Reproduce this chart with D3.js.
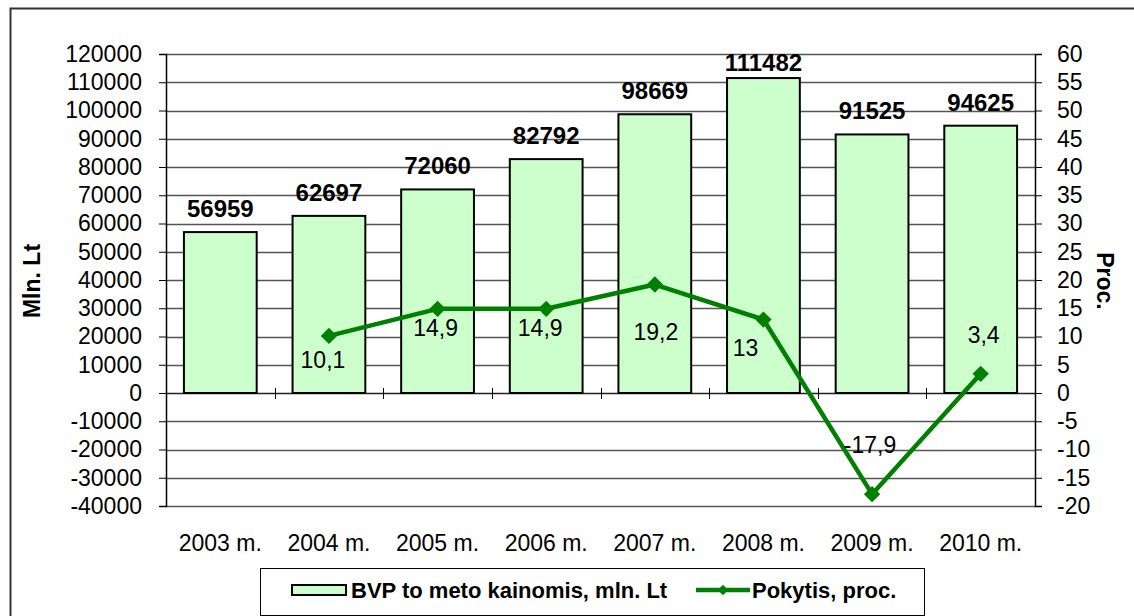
<!DOCTYPE html>
<html>
<head>
<meta charset="utf-8">
<script src="https://cdn.jsdelivr.net/npm/d3@7"></script>
<style>
  body { margin: 0; background: #fff; }
  text { font-family: Arial, "Liberation Sans", sans-serif; }
</style>
</head>
<body>
<svg id="chart" width="1134" height="616"></svg>
<script>
// data
var years = ["2003 m.", "2004 m.", "2005 m.", "2006 m.", "2007 m.", "2008 m.", "2009 m.", "2010 m."];
var bvp = [56959, 62697, 72060, 82792, 98669, 111482, 91525, 94625];
var pokytis = [null, 10.1, 14.9, 14.9, 19.2, 13, -17.9, 3.4];
var leftTicks = d3.range(-40000, 120001, 10000);
var rightTicks = d3.range(-20, 61, 5);
var seriesNames = ["BVP to meto kainomis, mln. Lt", "Pokytis, proc."];

var FONT = "Arial, 'Liberation Sans', sans-serif";
var svg = d3.select("#chart");
var m = { left: 166, right: 1035, top: 54, bottom: 506 };

// outer frame
svg.append("rect").attr("x", 10.5).attr("y", 8.5).attr("width", 1200).attr("height", 700)
    .attr("fill", "none").attr("stroke", "#333").attr("stroke-width", 2);

var x = d3.scaleBand().domain(years).range([m.left, m.right]).paddingInner(0.33).paddingOuter(0.165);
var xb = d3.scaleBand().domain(years).range([m.left, m.right]);
var yL = d3.scaleLinear().domain([-40000, 120000]).range([m.bottom, m.top]);
var yR = d3.scaleLinear().domain([-20, 60]).range([m.bottom, m.top]);

// gridlines
svg.append("g").selectAll("line").data(leftTicks).join("line")
    .attr("x1", m.left).attr("x2", m.right)
    .attr("y1", d => Math.round(yL(d)) + 0.5).attr("y2", d => Math.round(yL(d)) + 0.5)
    .attr("stroke", d => d === 0 ? "#222" : "#555").attr("stroke-width", 1.3);

// left axis
var gl = svg.append("g").attr("transform", "translate(" + m.left + ",0)")
    .call(d3.axisLeft(yL).tickValues(leftTicks).tickSize(7).tickPadding(17).tickFormat(d3.format("d")));
gl.select(".domain").attr("stroke", "#000").attr("stroke-width", 1.5);
gl.selectAll(".tick line").attr("stroke", "#000");
gl.selectAll(".tick text").attr("font-size", 23).attr("fill", "#000").style("font-family", FONT)
    .text(d => String(d));

// right axis
var gr = svg.append("g").attr("transform", "translate(" + m.right + ",0)")
    .call(d3.axisRight(yR).tickValues(rightTicks).tickSize(7).tickPadding(15).tickFormat(d => String(d)));
gr.select(".domain").attr("stroke", "#000").attr("stroke-width", 1.5);
gr.selectAll(".tick line").attr("stroke", "#000");
gr.selectAll(".tick text").attr("font-size", 23).attr("fill", "#000").style("font-family", FONT);

// bars
svg.append("g").selectAll("rect").data(bvp).join("rect")
    .attr("x", (d, i) => x(years[i]))
    .attr("width", x.bandwidth())
    .attr("y", d => yL(d))
    .attr("height", d => yL(0) - yL(d))
    .attr("fill", "#CCFFCC").attr("stroke", "#000").attr("stroke-width", 2);

// category ticks on zero line
svg.append("g").selectAll("line").data(years.slice(1)).join("line")
    .attr("x1", d => Math.round(xb(d)) + 0.5).attr("x2", d => Math.round(xb(d)) + 0.5)
    .attr("y1", yL(0) - 5).attr("y2", yL(0) + 6)
    .attr("stroke", "#000").attr("stroke-width", 1);

// bar labels (kept inside chart area at the top)
svg.append("g").selectAll("text").data(bvp).join("text")
    .attr("x", (d, i) => xb(years[i]) + xb.bandwidth() / 2)
    .attr("y", d => Math.max(yL(d) - 15, m.top + 17))
    .attr("text-anchor", "middle").attr("font-size", 24).attr("font-weight", "bold")
    .text(d => d);

// x labels
svg.append("g").selectAll("text").data(years).join("text")
    .attr("x", d => xb(d) + xb.bandwidth() / 2)
    .attr("y", 551)
    .attr("text-anchor", "middle").attr("font-size", 23)
    .text(d => d);

// line
var pts = pokytis.map((v, i) => ({ v: v, yr: years[i] })).filter(p => p.v !== null);
var line = d3.line().x(p => xb(p.yr) + xb.bandwidth() / 2).y(p => yR(p.v));
svg.append("path").datum(pts).attr("d", line)
    .attr("fill", "none").attr("stroke", "#008000").attr("stroke-width", 4.5).attr("stroke-linejoin", "round");
svg.append("g").selectAll("path").data(pts).join("path")
    .attr("d", d3.symbol(d3.symbolDiamond2, 170))
    .attr("transform", p => "translate(" + (xb(p.yr) + xb.bandwidth() / 2) + "," + yR(p.v) + ")")
    .attr("fill", "#008000");

// line labels (manual placement like the original)
var labelOffsets = [[-6, 32], [-2, 27], [-6, 27], [1, 55], [-18, 36], [-2, -41], [3, -31]];
svg.append("g").selectAll("text").data(pts).join("text")
    .attr("x", (p, i) => xb(p.yr) + xb.bandwidth() / 2 + labelOffsets[i][0])
    .attr("y", (p, i) => yR(p.v) + labelOffsets[i][1])
    .attr("text-anchor", "middle").attr("font-size", 23)
    .text(p => String(p.v).replace(".", ","));

// axis titles
svg.append("text").attr("transform", "translate(40,281) rotate(-90)")
    .attr("text-anchor", "middle").attr("font-size", 23).attr("font-weight", "bold").text("Mln. Lt");
svg.append("text").attr("transform", "translate(1097,281) rotate(90)")
    .attr("text-anchor", "middle").attr("font-size", 23).attr("font-weight", "bold").text("Proc.");

// legend
var lg = svg.append("g");
lg.append("rect").attr("x", 260.5).attr("y", 568.5).attr("width", 664).attr("height", 47)
    .attr("fill", "#fff").attr("stroke", "#000").attr("stroke-width", 1);
lg.append("rect").attr("x", 292).attr("y", 585).attr("width", 54).attr("height", 10)
    .attr("fill", "#CCFFCC").attr("stroke", "#000").attr("stroke-width", 2);
lg.append("text").attr("x", 351).attr("y", 598).attr("font-size", 22).attr("font-weight", "bold").text(seriesNames[0]);
lg.append("line").attr("x1", 696).attr("x2", 750).attr("y1", 590).attr("y2", 590)
    .attr("stroke", "#008000").attr("stroke-width", 4.5);
lg.append("path").attr("d", d3.symbol(d3.symbolDiamond2, 70))
    .attr("transform", "translate(723,590)").attr("fill", "#008000");
lg.append("text").attr("x", 752).attr("y", 598).attr("font-size", 22).attr("font-weight", "bold").text(seriesNames[1]);
</script>
</body>
</html>
